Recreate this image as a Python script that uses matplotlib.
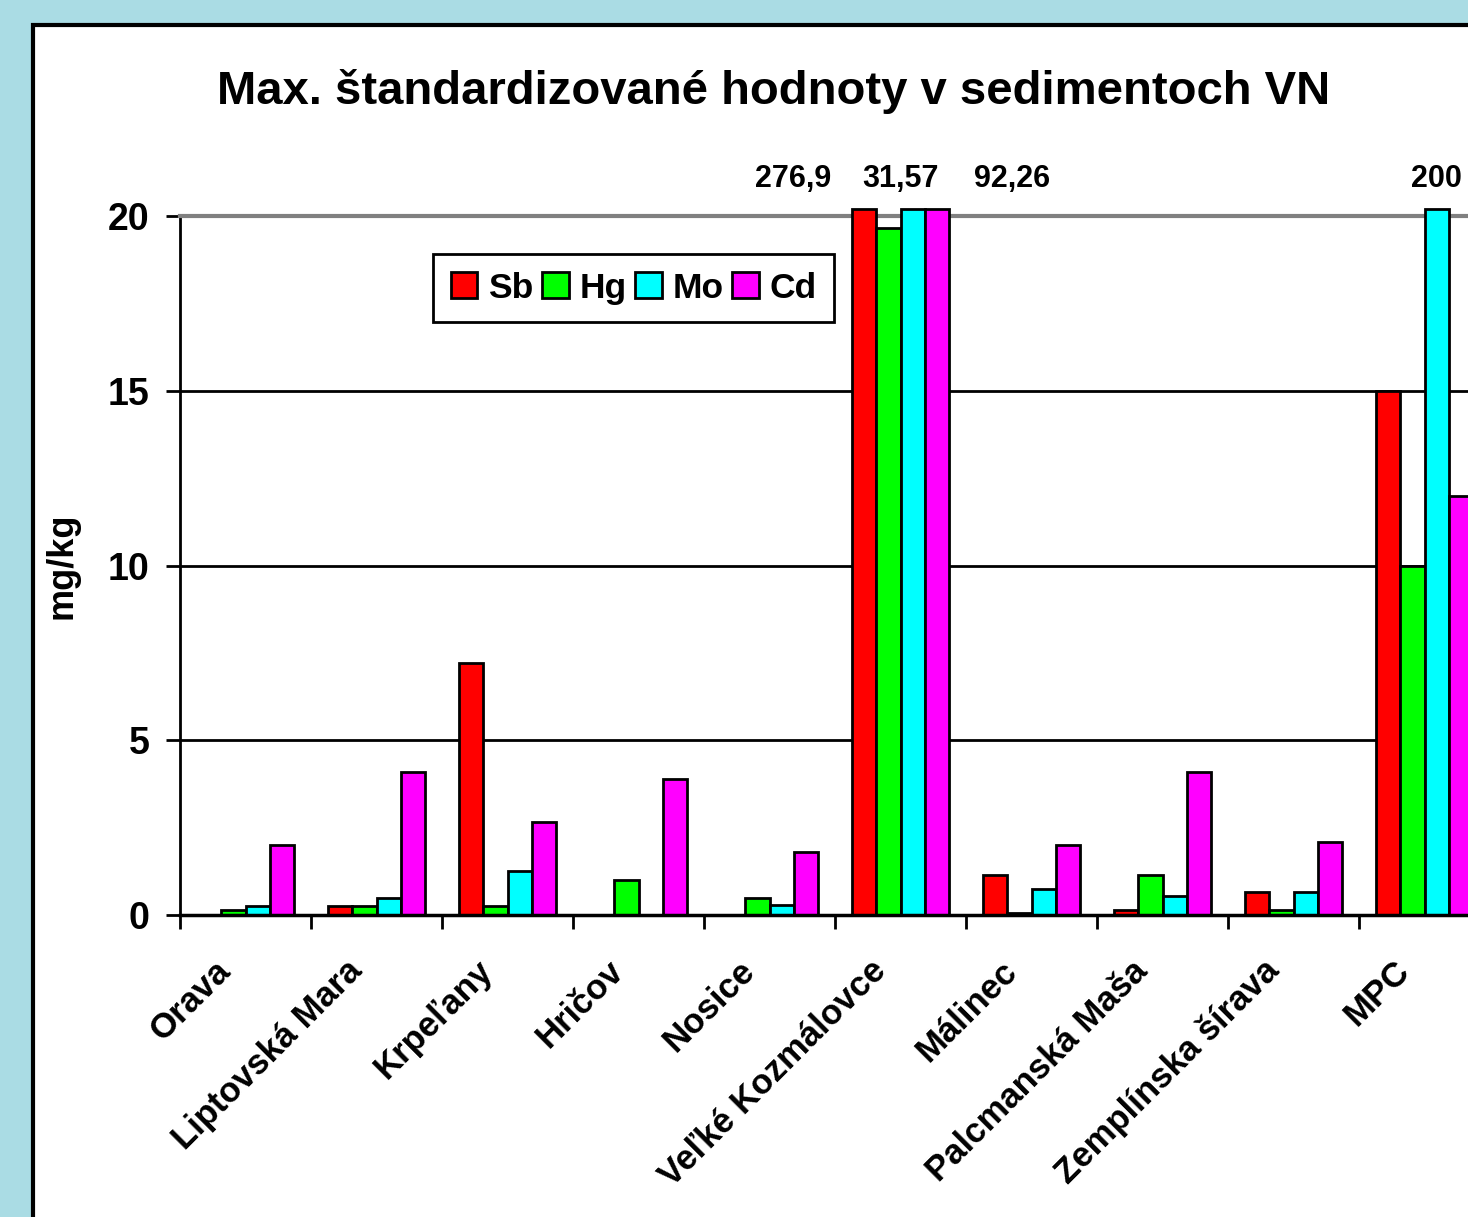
import numpy as np
import matplotlib
matplotlib.use('Agg')
import matplotlib.pyplot as plt
from matplotlib.patches import Rectangle

plt.rcParams['font.family'] = ['Liberation Sans', 'DejaVu Sans']
plt.rcParams['font.weight'] = 'bold'

# data
sites = ['Orava', 'Liptovská Mara', 'Krpeľany', 'Hričov', 'Nosice',
         'Veľké Kozmálovce', 'Málinec', 'Palcmanská Maša', 'Zemplínska šírava', 'MPC']
sb = [0.0, 0.25, 7.2, 0.0, 0.0, 276.9, 1.15, 0.15, 0.65, 15.0]
hg = [0.15, 0.25, 0.25, 1.0, 0.5, 19.65, 0.05, 1.15, 0.15, 10.0]
mo = [0.25, 0.5, 1.25, 0.0, 0.3, 31.57, 0.75, 0.55, 0.65, 200.0]
cd = [2.0, 4.1, 2.65, 3.9, 1.8, 92.26, 2.0, 4.1, 2.1, 12.0]
metals = ['Sb', 'Hg', 'Mo', 'Cd']
colors = ['#ff0000', '#00ff00', '#00ffff', '#ff00ff']

# values over the axis limit, labelled above the plot
over_vals = [276.9, 31.57, 92.26, 200.0]
over_x = [5 - 0.82, 5.0, 5 + 0.85, 9 + 0.093]

W, H = 1468, 1217
fig = plt.figure(figsize=(W / 100, H / 100), dpi=100)
fig.patch.set_facecolor('#aadce4')

# white chart area with black border
fig.patches.append(Rectangle((33 / W, -0.1), 1.2, 1 - 25 / H + 0.1, transform=fig.transFigure,
                             facecolor='white', edgecolor='black', linewidth=3, zorder=-5))

ax = fig.add_axes([180 / W, 1 - 915 / H, 1310 / W, 699 / H])
ax.set_facecolor('white')

x = np.arange(len(sites))
w = 0.186
ymax = 20
for i, (vals, c, m) in enumerate(zip([sb, hg, mo, cd], colors, metals)):
    h = np.minimum(np.array(vals), ymax + 0.2)
    ax.bar(x + (i - 1.5) * w, h, w, color=c, edgecolor='black', linewidth=2,
           label=m, clip_on=False, zorder=3)

ax.set_xlim(-0.5, len(sites) - 0.5)
ax.set_ylim(0, ymax)

for yv in [5, 10, 15]:
    ax.axhline(yv, color='black', linewidth=2, zorder=1)

ax.spines['top'].set_color('#808080')
ax.spines['top'].set_linewidth(3)
ax.spines['right'].set_visible(False)
ax.spines['left'].set_linewidth(2)
ax.spines['bottom'].set_linewidth(2.5)
ax.spines['bottom'].set_zorder(4)

ax.set_yticks([0, 5, 10, 15, 20])
ax.tick_params(axis='y', labelsize=27, width=2, length=10, pad=12)
for t in ax.get_yticklabels():
    t.set_fontweight('bold')

ax.set_xticks(np.arange(len(sites) + 1) - 0.5, minor=False)
ax.set_xticklabels([])
ax.tick_params(axis='x', width=2, length=10)
for xi, s in zip(x, sites):
    ax.text(xi - 0.15, -1.45, s, rotation=45, ha='right', va='center', rotation_mode='anchor',
            fontsize=25, fontweight='bold', transform=ax.transData, clip_on=False)

ax.set_ylabel('mg/kg', fontsize=26, fontweight='bold', labelpad=20)

for v, xv in zip(over_vals, over_x):
    txt = f'{v:g}'.replace('.', ',')
    ax.text(xv, 21.05, txt, ha='center', va='center', fontsize=22, fontweight='bold',
            clip_on=False)

fig.text(774 / W, 1 - 92 / H, 'Max. štandardizované hodnoty v sedimentoch VN',
         ha='center', va='center', fontsize=34, fontweight='bold')

leg = ax.legend(loc='upper left', bbox_to_anchor=(433 / W, 1 - 254 / H), bbox_transform=fig.transFigure,
                ncol=4, fontsize=25.5, frameon=True, fancybox=False, edgecolor='black', framealpha=1,
                handlelength=0.75, handleheight=0.75, handletextpad=0.3, columnspacing=0.25,
                borderpad=0.5, borderaxespad=0)
leg.get_frame().set_linewidth(2)
for t in leg.get_texts():
    t.set_fontweight('bold')

fig.savefig('out.png', dpi=100, facecolor=fig.get_facecolor())
